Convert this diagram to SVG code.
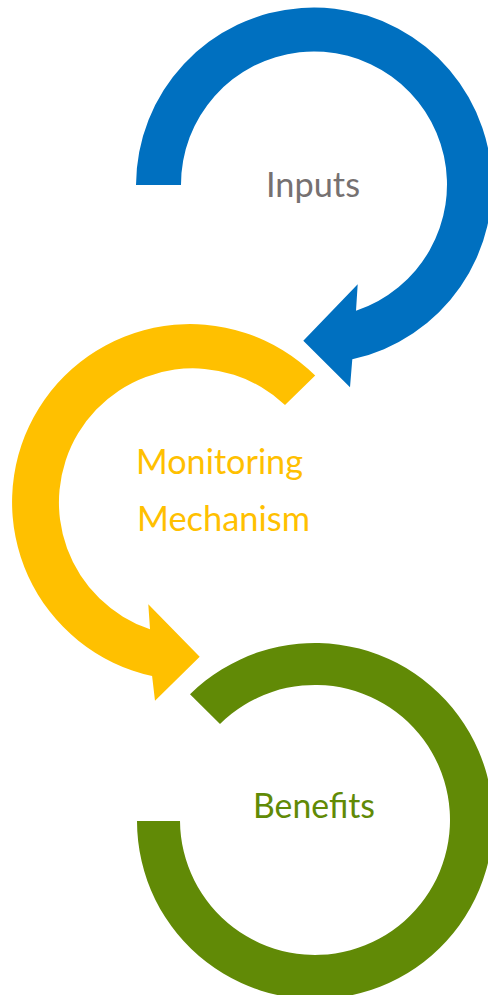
<svg xmlns="http://www.w3.org/2000/svg" width="488" height="995" viewBox="0 0 488 995">
  <style>
    .lbl { font-family: Lato, "Open Sans", "Liberation Sans", sans-serif; font-size: 34px; }
    .blue { fill: #0070C0; }
    .yellow { fill: #FFC000; }
    .green { fill: #618A06; }
  </style>
  <rect width="488" height="995" fill="#FFFFFF"/>
  <g id="inputs">
    <path class="blue" d="M136,185 A178,178 0 1 1 352.3,359.3 L350,387.3 L303.3,340.7 L357.7,284.3 L356,310.7 A133,133 0 1 0 181,185 Z"/>
    <text class="lbl" x="266" y="197" fill="#767171" textLength="94" lengthAdjust="spacingAndGlyphs">Inputs</text>
  </g>
  <g id="monitoring-mechanism">
    <path class="yellow" d="M315.2,375.5 A178,178 0 1 0 152.1,676 L155,700.7 L199.7,656.7 L148.3,604.3 L150,629.3 A134,134 0 1 1 285,405 Z"/>
    <text class="lbl" fill="#FFC000">
      <tspan x="136" y="474" textLength="167" lengthAdjust="spacingAndGlyphs">Monitoring</tspan>
      <tspan x="137" y="530.7" textLength="173" lengthAdjust="spacingAndGlyphs">Mechanism</tspan>
    </text>
  </g>
  <g id="benefits">
    <path class="green" d="M190,694.3 A178,178 0 1 1 137,821 L180,821 A135,135 0 1 0 220,724 Z"/>
    <text class="lbl" x="253" y="818.3" fill="#618A06" textLength="122" lengthAdjust="spacingAndGlyphs">Benefits</text>
  </g>
  <g id="connectors"></g>
</svg>
